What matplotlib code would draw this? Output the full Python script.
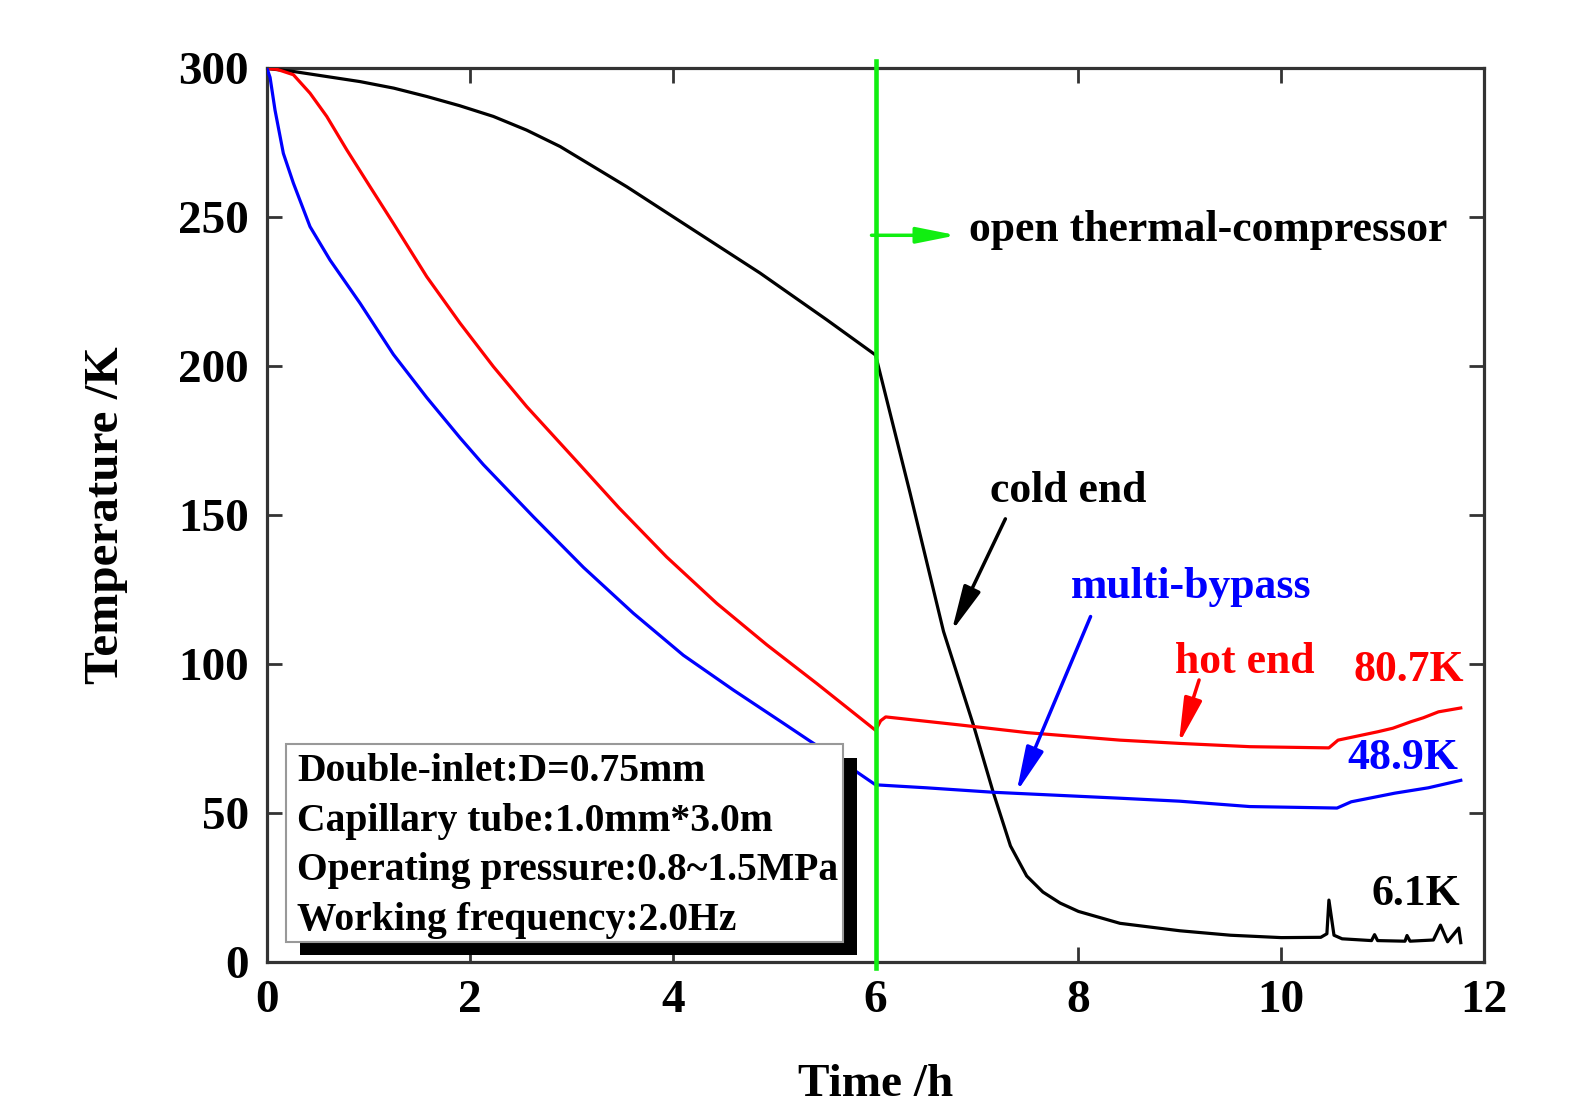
import matplotlib.pyplot as plt
from matplotlib.patches import Rectangle

plt.rcParams['font.family'] = ['Liberation Serif', 'DejaVu Serif']
plt.rcParams['font.weight'] = 'bold'

# cold end (black)
t_cold = [0, 0.26, 0.917, 1.25, 1.575, 1.9, 2.232, 2.56, 2.89, 3.547, 4.204, 4.862, 5.52, 6.0,
          6.34, 6.67, 6.97, 7.16, 7.33, 7.49, 7.65, 7.82, 8.0, 8.41, 9.0, 9.5, 10.0,
          10.39, 10.45, 10.47, 10.52, 10.6, 10.89, 10.92, 10.95, 11.22, 11.24, 11.27,
          11.5, 11.57, 11.64, 11.75, 11.77]
T_cold = [300, 299, 295.6, 293.4, 290.6, 287.5, 283.9, 279.3, 273.8, 260.3, 245.8, 231.3, 215.6, 203.8,
          157.5, 111, 79, 57, 39, 28.9, 23.5, 19.8, 17, 13, 10.5, 9, 8.2,
          8.3, 9.5, 20.8, 9, 7.8, 7.2, 9.2, 7.2, 7.0, 8.9, 7.0,
          7.4, 12.4, 6.8, 11.4, 6.5]

# hot end (red)
t_hot = [0, 0.1, 0.26, 0.424, 0.589, 0.786, 1.016, 1.246, 1.575, 1.903, 2.232, 2.56, 3.07,
         3.47, 3.94, 4.435, 4.928, 5.421, 6.0,
         6.05, 6.1, 6.83, 7.5, 8.41, 9.0, 9.69, 10.47, 10.56, 10.95, 11.1, 11.28, 11.4, 11.55, 11.77]
T_hot = [300, 299.7, 297.9, 291.7, 283.9, 272.7, 260.3, 248, 230.1, 214.5, 199.9, 186.5, 167.5,
         152.5, 136, 120.4, 106.5, 93.5, 77.8,
         81, 82.3, 79.6, 77, 74.5, 73.4, 72.3, 71.9, 74.5, 77.3, 78.5, 80.7, 82, 84, 85.3]

# multi-bypass (blue)
t_mb = [0, 0.03, 0.079, 0.161, 0.26, 0.424, 0.621, 0.917, 1.246, 1.575, 1.903, 2.133, 2.626,
        3.12, 3.612, 4.105, 4.599, 5.09, 5.34, 5.7, 6.0,
        6.5, 7.16, 8.41, 9.0, 9.69, 10.55, 10.69, 11.12, 11.45, 11.77]
T_mb = [300, 297, 286, 271.5, 261.5, 246.9, 235.7, 221.2, 204, 189.5, 176, 167, 149.5,
        132.5, 117.1, 103, 91.3, 80.2, 74.5, 66.5, 59.5,
        58.5, 57, 55, 54, 52.2, 51.7, 53.8, 56.7, 58.5, 61]

x_ticks = [0, 2, 4, 6, 8, 10, 12]
y_ticks = [0, 50, 100, 150, 200, 250, 300]
t_open = 6.0

info_lines = ["Double-inlet:D=0.75mm",
              "Capillary tube:1.0mm*3.0m",
              "Operating pressure:0.8~1.5MPa",
              "Working frequency:2.0Hz"]

fig = plt.figure(figsize=(15.8, 11.1), dpi=100)
ax = fig.add_axes([0.169, 0.1333, 0.7703, 0.805])

lw = 2.3
ax.plot(t_cold, T_cold, color='black', lw=lw, zorder=3)
ax.plot(t_hot, T_hot, color='#ff0000', lw=lw, zorder=3)
ax.plot(t_mb, T_mb, color='#0000ff', lw=lw, zorder=3)
ax.plot([t_open, t_open], [-2, 302.5], color='#11ee11', lw=3.3, zorder=6, clip_on=False)

ax.set_xlim(0, 12)
ax.set_ylim(0, 300)
ax.set_xticks(x_ticks)
ax.set_yticks(y_ticks)
ax.tick_params(direction='in', top=True, right=True, length=11, width=2,
               labelsize=34, color='#333333')
ax.tick_params(axis='x', pad=13)
ax.tick_params(axis='y', pad=13)
for s in ax.spines.values():
    s.set_linewidth(2.3)
    s.set_color('#333333')

ax.set_xlabel("Time /h", fontsize=34, fontweight='bold', labelpad=30)
ax.set_ylabel("Temperature /K", fontsize=35.5, fontweight='bold', labelpad=36)

# parameter box with drop shadow
ax.add_patch(Rectangle((0.33, 2.3), 5.49, 66.1, facecolor='black', edgecolor='none', zorder=7))
ax.add_patch(Rectangle((0.185, 6.8), 5.495, 66.4, facecolor='white', edgecolor='#999999',
                       lw=1.5, zorder=8))
for i, line in enumerate(info_lines):
    ax.text(0.3, 63.9 - i * 16.6, line, fontsize=28.5, fontweight='bold', va='center',
            ha='left', zorder=9)

fs = 31.5
head = '-|>,head_length=1.1,head_width=0.22'
ax.annotate("", xy=(6.8, 244), xytext=(5.96, 244),
            arrowprops=dict(arrowstyle=head, color='#11ee11', lw=2.5,
                            mutation_scale=22, shrinkA=0, shrinkB=0), zorder=6)
ax.text(6.92, 245.8, "open thermal-compressor", fontsize=fs, fontweight='bold',
        ha='left', va='center')

ax.annotate("", xy=(6.75, 111), xytext=(7.28, 148.8),
            arrowprops=dict(arrowstyle=head, color='black', lw=2.5,
                            mutation_scale=25, shrinkA=0, shrinkB=0), zorder=5)
ax.text(7.9, 158, "cold end", fontsize=fs, fontweight='bold', ha='center', va='center')

ax.annotate("", xy=(7.39, 57), xytext=(8.12, 116),
            arrowprops=dict(arrowstyle=head, color='#0000ff', lw=2.5,
                            mutation_scale=25, shrinkA=0, shrinkB=0), zorder=5)
ax.text(9.11, 126, "multi-bypass", fontsize=fs, fontweight='bold', color='#0000ff',
        ha='center', va='center')

ax.annotate("", xy=(8.99, 73.3), xytext=(9.19, 94.7),
            arrowprops=dict(arrowstyle=head, color='#ff0000', lw=2.5,
                            mutation_scale=25, shrinkA=0, shrinkB=0), zorder=5)
ax.text(9.64, 100.7, "hot end", fontsize=fs, fontweight='bold', color='#ff0000',
        ha='center', va='center')

ax.text(11.8, 98, "80.7K", fontsize=fs, fontweight='bold', color='#ff0000', ha='right', va='center')
ax.text(11.75, 68.6, "48.9K", fontsize=fs, fontweight='bold', color='#0000ff', ha='right', va='center')
ax.text(11.76, 22.9, "6.1K", fontsize=fs, fontweight='bold', color='black', ha='right', va='center')

fig.savefig("out.png", dpi=100)
